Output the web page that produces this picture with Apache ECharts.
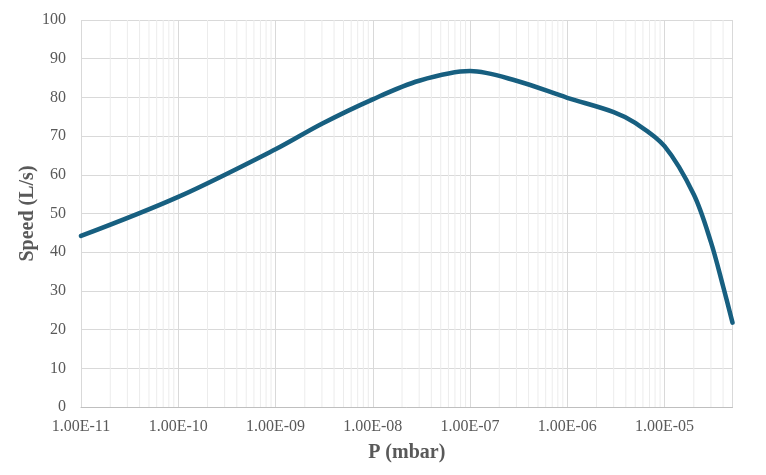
<!DOCTYPE html>
<html>
<head>
<meta charset="utf-8">
<script src="https://cdn.jsdelivr.net/npm/echarts@6/dist/echarts.min.js"></script>
<style>html,body{margin:0;padding:0;background:#fff;}#c{width:766px;height:475px;}</style>
</head>
<body>
<div id="c"></div>
<script>
// Pressure (mbar)
var pressure = [1e-11, 1e-10, 1e-9, 3e-9, 1e-8, 3e-8, 1e-7, 3e-7,
  1e-6, 3e-6, 5e-6, 1e-5, 2e-5, 3e-5, 4e-5, 5e-5];
// Speed (L/s)
var speed = [44.2, 54.3, 66.6, 73.2, 79.5, 84.3, 86.8, 84.3,
  79.9, 76.2, 73.4, 67.4, 54.9, 42.6, 31.2, 21.8];
var xMin = 1e-11, xMax = 5e-5;
var yTicks = {min: 0, max: 100, interval: 10};

// minor vertical gridlines at 2..9 x 10^k
var minorVals = [];
for (var k = -11; k <= -5; k++) {
  for (var m = 2; m <= 9; m++) {
    var v = m * Math.pow(10, k);
    if (v < xMax * 0.999) minorVals.push(v);
  }
}
var minorData = [];
minorVals.forEach(function (v) {
  minorData.push([v, yTicks.min], [v, yTicks.max], [v, '-']);
});

function fmtX(v) {
  var e = Math.round(Math.log10(v));
  if (Math.abs(v - Math.pow(10, e)) / v > 1e-6) return '';
  var a = Math.abs(e);
  return '1.00E' + (e < 0 ? '-' : '+') + (a < 10 ? '0' + a : '' + a);
}

var font = 'Liberation Serif, Times New Roman, serif';
var points = pressure.map(function (p, i) { return [p, speed[i]]; });
var chart = echarts.init(document.getElementById('c'), null, {renderer: 'canvas'});
chart.setOption({
  animation: false,
  grid: {left: 81, right: 33.5, top: 20, bottom: 68},
  xAxis: {
    type: 'log', logBase: 10, min: xMin, max: xMax,
    name: 'P (mbar)', nameLocation: 'middle', nameGap: 36, nameMoveOverlap: false,
    nameTextStyle: {fontFamily: font, fontSize: 20, fontWeight: 'bold', color: '#595959'},
    axisLine: {show: true, lineStyle: {color: '#bfbfbf', width: 1}},
    axisTick: {show: false},
    axisLabel: {fontFamily: font, fontSize: 16, color: '#595959', margin: 12, formatter: fmtX, showMaxLabel: false},
    splitLine: {show: true, lineStyle: {color: '#d9d9d9', width: 1}},
    minorTick: {show: false}, minorSplitLine: {show: false}
  },
  yAxis: {
    type: 'value', min: yTicks.min, max: yTicks.max, interval: yTicks.interval,
    name: 'Speed (L/s)', nameLocation: 'middle', nameGap: 43, nameMoveOverlap: false,
    nameTextStyle: {fontFamily: font, fontSize: 20, fontWeight: 'bold', color: '#595959'},
    axisLine: {show: false}, axisTick: {show: false},
    axisLabel: {fontFamily: font, fontSize: 16, color: '#595959', margin: 15},
    splitLine: {show: true, lineStyle: {color: '#d9d9d9', width: 1}}
  },
  series: [
    {
      type: 'line', data: minorData, z: 1, silent: true,
      showSymbol: false, symbol: 'none', connectNulls: false,
      lineStyle: {color: '#ececec', width: 1},
      emphasis: {disabled: true}
    },
    {
      type: 'line', z: 3,
      data: points,
      smooth: 0.33, showSymbol: false, symbol: 'none',
      lineStyle: {color: '#175f80', width: 4.5, cap: 'round'},
      clip: true
    }
  ]
});
</script>
</body>
</html>
